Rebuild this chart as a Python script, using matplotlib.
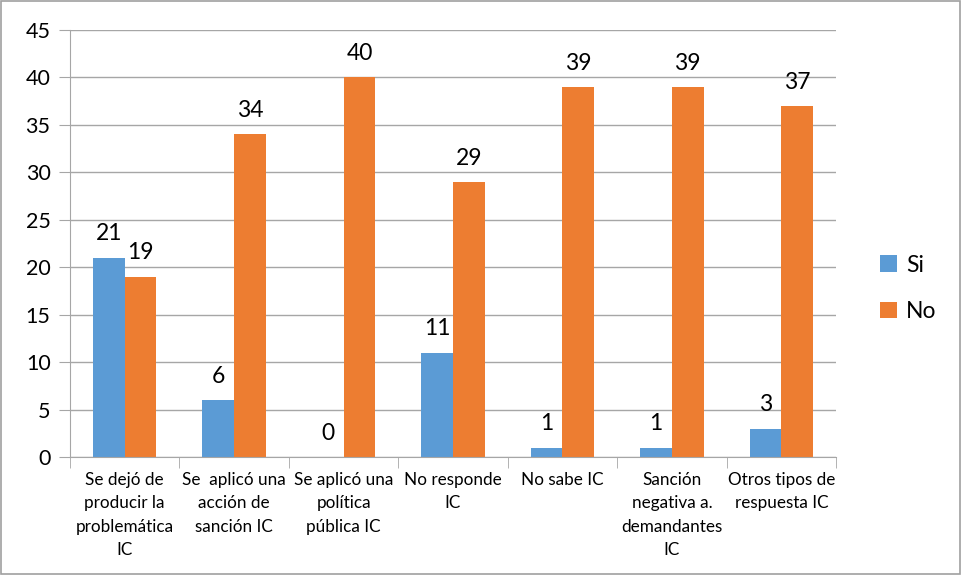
import matplotlib
matplotlib.use("Agg")
import matplotlib.pyplot as plt
import numpy as np

categories = ["Se dejó de\nproducir la\nproblemática\nIC",
              "Se  aplicó una\nacción de\nsanción IC",
              "Se aplicó una\npolítica\npública IC",
              "No responde\nIC",
              "No sabe IC",
              "Sanción\nnegativa a.\ndemandantes\nIC",
              "Otros tipos de\nrespuesta IC"]
si = [21, 6, 0, 11, 1, 1, 3]
no = [19, 34, 40, 29, 39, 39, 37]
yticks = [0, 5, 10, 15, 20, 25, 30, 35, 40, 45]

plt.rcParams['font.family'] = ['Lato', 'DejaVu Sans']
blue = "#5B9BD5"
orange = "#ED7D31"
grid = "#A6A6A6"

fig = plt.figure(figsize=(9.61, 5.75), dpi=100)
ax = fig.add_axes([70/961, 1-457/575, (836-70)/961, (457-30)/575])

x = np.arange(len(categories))
w = 0.29
b1 = ax.bar(x - w/2, si, w, color=blue, label="Si")
b2 = ax.bar(x + w/2, no, w, color=orange, label="No")
for rect, v in zip(b1, si):
    ax.text(rect.get_x() + rect.get_width()/2, v + 1.4, str(v), ha='center', va='bottom', fontsize=16.5)
for rect, v in zip(b2, no):
    ax.text(rect.get_x() + rect.get_width()/2, v + 1.4, str(v), ha='center', va='bottom', fontsize=16.5)

ax.set_xlim(-0.5, len(categories) - 0.5)
ax.set_ylim(0, 45)
ax.set_yticks(yticks)
ax.tick_params(axis='y', labelsize=15.5, length=8, color=grid, pad=6)
ax.yaxis.grid(True, color=grid, linewidth=1)
ax.set_axisbelow(True)

ax.set_xticks(x)
ax.set_xticklabels(categories, fontsize=12.3, linespacing=1.55)
ax.tick_params(axis='x', length=0, pad=11)
ax.set_xticks(np.arange(-0.5, len(categories), 1), minor=True)
ax.tick_params(axis='x', which='minor', length=8, color=grid)

for s in ['top', 'right']:
    ax.spines[s].set_visible(False)
ax.spines['left'].set_color(grid)
ax.spines['bottom'].set_color(grid)

ax.legend(loc='center left', bbox_to_anchor=(1.03, 0.395), frameon=False, fontsize=16.5,
          handlelength=0.75, handleheight=0.75, labelspacing=1.1, handletextpad=0.4)

fig.patches.append(plt.Rectangle((0.001, 0.001), 0.998, 0.998, transform=fig.transFigure,
                                 fill=False, edgecolor="#A0A0A0", linewidth=1.2))

fig.savefig("out.png", dpi=100)
